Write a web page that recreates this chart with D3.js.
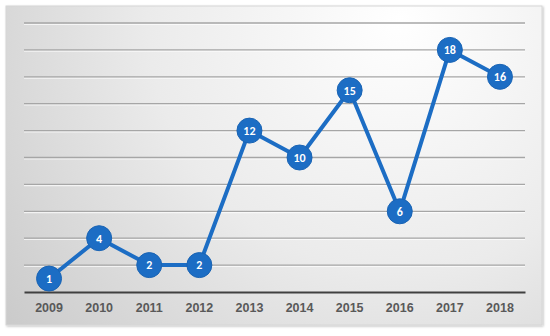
<!DOCTYPE html>
<html>
<head>
<meta charset="utf-8">
<script src="https://cdn.jsdelivr.net/npm/d3@7"></script>
<style>
  body { margin: 0; background: #fff; }
  svg { display: block; font-family: Carlito, Lato, "Liberation Sans", Arial, sans-serif; }
</style>
</head>
<body>
<script>
// data
const years = ['2009', '2010', '2011', '2012', '2013', '2014', '2015', '2016', '2017', '2018']
const counts = [1, 4, 2, 2, 12, 10, 15, 6, 18, 16]
const yTicks = [2, 4, 6, 8, 10, 12, 14, 16, 18, 20]

const width = 550
const height = 336

// outer chart frame
const frame = { x: 6, y: 6, w: 536, h: 319 }
// plot area
const margin = { top: 23, left: 24, right: 25 }
const innerWidth = width - margin.left - margin.right
const innerHeight = 269

const lineColor = '#1c6dc4'

const svg = d3.select('body')
  .append('svg')
  .attr('width', width)
  .attr('height', height)

const defs = svg.append('defs')

const grad = defs.append('radialGradient')
  .attr('id', 'bg')
  .attr('gradientUnits', 'userSpaceOnUse')
  .attr('cx', 400).attr('cy', 20)
  .attr('r', 560)
grad.append('stop').attr('offset', '0%').attr('stop-color', '#ffffff')
grad.append('stop').attr('offset', '45%').attr('stop-color', '#ebebeb')
grad.append('stop').attr('offset', '100%').attr('stop-color', '#c2c2c2')

const shadow = defs.append('filter').attr('id', 'shadow')
  .attr('x', '-5%').attr('y', '-5%').attr('width', '110%').attr('height', '110%')
shadow.append('feDropShadow')
  .attr('dx', 1).attr('dy', 1).attr('stdDeviation', 1.2)
  .attr('flood-color', '#000').attr('flood-opacity', 0.25)

//=================== FRAME ==================
svg.append('rect')
  .attr('x', frame.x).attr('y', frame.y)
  .attr('width', frame.w).attr('height', frame.h)
  .attr('fill', 'url(#bg)')
  .attr('stroke', '#d6d6d6')
  .attr('stroke-width', 1)
  .attr('filter', 'url(#shadow)')

const g = svg.append('g')
  .attr('transform', `translate(${margin.left},${margin.top})`)

//=================== SCALES ==================
const xScale = d3.scaleBand()
  .domain(years)
  .range([0, innerWidth])

const yScale = d3.scaleLinear()
  .domain([0, 20])
  .range([innerHeight, 0])

//=================== GRID ==================
const grid = g.append('g')

// soft highlight under each gridline
grid.selectAll('.hl')
  .data(yTicks)
  .enter()
  .append('line')
  .attr('class', 'hl')
  .attr('x1', 0)
  .attr('x2', innerWidth)
  .attr('y1', d => yScale(d) + 1.3)
  .attr('y2', d => yScale(d) + 1.3)
  .attr('stroke', '#ffffff')
  .attr('stroke-opacity', 0.7)
  .attr('stroke-width', 1.2)

grid.selectAll('.gl')
  .data(yTicks)
  .enter()
  .append('line')
  .attr('class', 'gl')
  .attr('x1', 0)
  .attr('x2', innerWidth)
  .attr('y1', d => yScale(d))
  .attr('y2', d => yScale(d))
  .attr('stroke', '#a6a6a6')
  .attr('stroke-width', 1.3)

//=================== X-AXIS ==================
const xAxis = d3.axisBottom(xScale).tickSize(0).tickPadding(11)

const xAxisGroup = g.append('g')
  .attr('transform', `translate(0,${yScale(0)})`)
  .call(xAxis)

xAxisGroup.select('.domain')
  .attr('stroke', '#404040')
  .attr('stroke-width', 2.2)

xAxisGroup.selectAll('text')
  .attr('fill', '#595959')
  .style('font-size', '12.5px')
  .style('font-weight', 'bold')

//=================== LINE ==================
const line = d3.line()
  .x((d, i) => xScale(years[i]) + xScale.bandwidth() / 2)
  .y(d => yScale(d))

g.append('path')
  .datum(counts)
  .attr('d', line)
  .attr('fill', 'none')
  .attr('stroke', lineColor)
  .attr('stroke-width', 4)
  .attr('stroke-linejoin', 'round')

const points = g.selectAll('.pt')
  .data(counts)
  .enter()
  .append('g')
  .attr('class', 'pt')
  .attr('transform', (d, i) => `translate(${xScale(years[i]) + xScale.bandwidth() / 2},${yScale(d)})`)

points.append('circle')
  .attr('r', 12.5)
  .attr('fill', lineColor)
  .attr('stroke', '#1a64b4')
  .attr('stroke-width', 1)

points.append('text')
  .text(d => d)
  .attr('text-anchor', 'middle')
  .attr('dy', '0.36em')
  .attr('fill', '#fff')
  .style('font-size', '12px')
  .style('font-weight', 'bold')
</script>
</body>
</html>
